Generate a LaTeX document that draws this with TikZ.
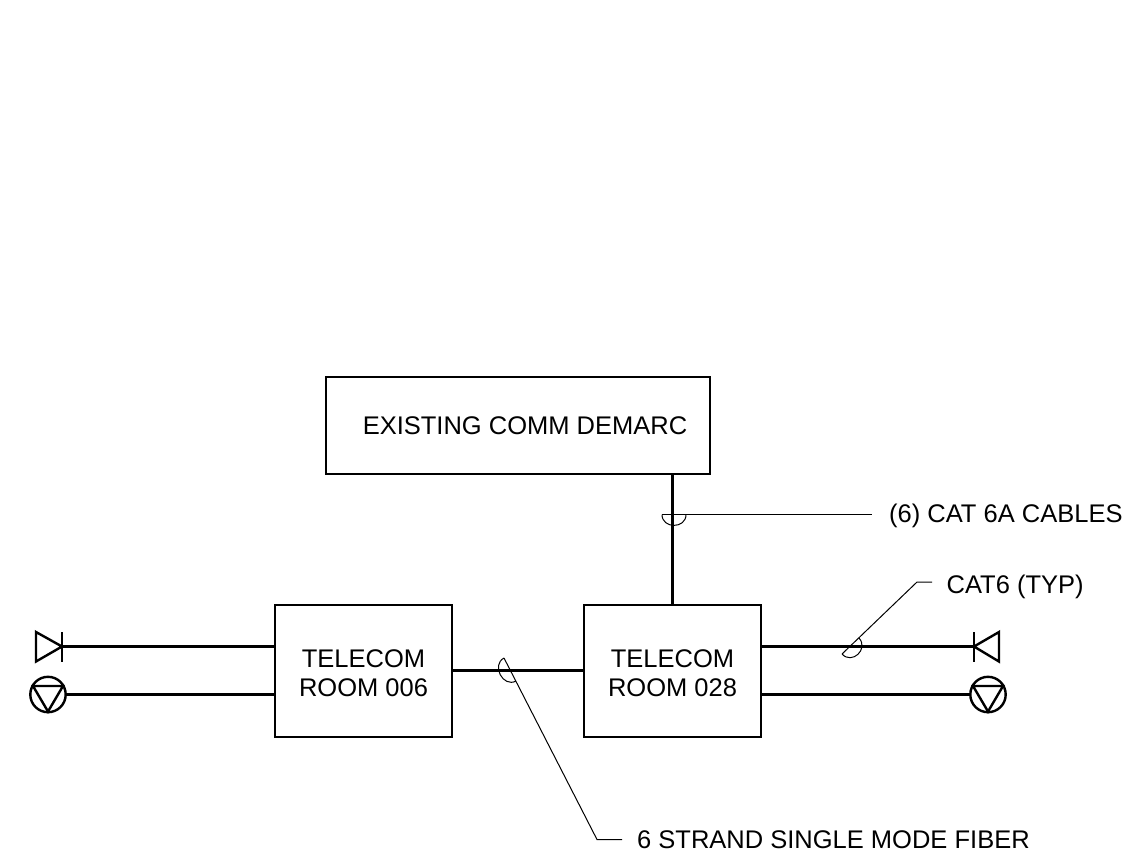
\documentclass[tikz,border=0pt]{standalone}
\usepackage{fontspec}
\setmainfont{Liberation Sans}
\tikzset{
  box/.style={draw=black,line width=2.1pt,inner sep=0pt,align=center,font=\fontsize{25.5}{29}\selectfont},
  label/.style={inner sep=0pt,anchor=base west,font=\fontsize{25.5}{29}\selectfont},
  cable/.style={line width=2.8pt},
  symb/.style={line width=2.4pt,line join=miter},
  leader/.style={line width=1pt}
}
\begin{document}
\begin{tikzpicture}[x=1pt,y=-1pt]
\useasboundingbox (0,0) rectangle (1131,865);
\node[box,minimum width=384pt,minimum height=97pt] (demarc) at (518,425.5) {\hspace*{14pt}EXISTING COMM DEMARC};
\node[box,minimum width=177pt,minimum height=132pt] (tr006) at (363.5,671) {\rule{0pt}{22pt}TELECOM\\ROOM 006};
\node[box,minimum width=177pt,minimum height=132pt] (tr028) at (672.5,671) {\rule{0pt}{22pt}TELECOM\\ROOM 028};
% free ends
\coordinate (vtop) at (672.5,474);
\coordinate (hmid) at (518,670.5);
\coordinate (dL) at (62,646.5);
\coordinate (dR) at (974,646.5);
\coordinate (cL) at (48,694.5);
\coordinate (cR) at (988,694.5);
% connectors
\draw[cable] (tr028.north -| vtop) -- (demarc.south -| vtop);
\draw[cable] (tr006.east |- hmid) -- (tr028.west |- hmid);
\draw[cable] (dL) -- (tr006.west |- dL);
\draw[cable] (dR) -- (tr028.east |- dR);
\draw[cable] (cL) ++(18,0) -- (tr006.west |- cL);
\draw[cable] (cR) ++(-18,0) -- (tr028.east |- cR);
% end symbols
\draw[symb] (36,632) -- (62,646.5) -- (36,661.5) -- cycle;
\draw[symb] (62,632) -- (62,661.5);
\draw[symb] (999,632) -- (974,646.5) -- (999,661.5) -- cycle;
\draw[symb] (974,632) -- (974,661.5);
\draw[symb] (cL) circle[radius=17.7];
\draw[symb] (33,686) -- (63,686) -- (48,711.5) -- cycle;
\draw[symb] (cR) circle[radius=17.7];
\draw[symb] (973,686) -- (1003,686) -- (988,711.5) -- cycle;
% labels
\node[label] (t1) at (889,522.5) {(6) CAT 6A CABLES};
\node[label] (t2) at (946.5,593) {CAT6 (TYP)};
\node[label] (t3) at (637,848) {6 STRAND SINGLE MODE FIBER};
% leaders and ticks
\coordinate (a1) at (662,514.5);
\coordinate (e1) at (872,514.5);
\draw[leader] (a1) -- (e1);
\draw[leader] (a1) .. controls (662,529) and (686,529) .. (686,514.5);
\coordinate (a2) at (842,654);
\coordinate (k2) at (917,582);
\coordinate (e2) at (932,582);
\draw[leader] (a2) -- (k2) -- (e2);
\draw[leader] (a2) .. controls (852,665) and (869,649) .. (859,638);
\coordinate (a3) at (504,658);
\coordinate (k3) at (597,839.5);
\coordinate (e3) at (622,839.5);
\draw[leader] (a3) -- (k3) -- (e3);
\draw[leader] (a3) .. controls (491,665) and (503,688) .. (516,681);
\end{tikzpicture}
\end{document}
